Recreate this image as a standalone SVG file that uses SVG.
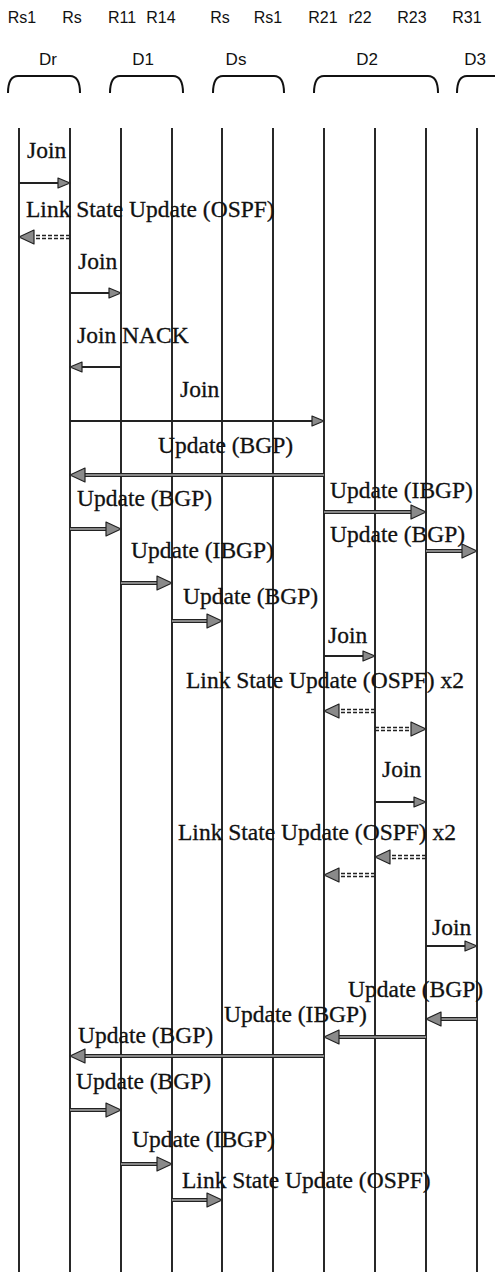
<svg xmlns="http://www.w3.org/2000/svg" width="495" height="1272" viewBox="0 0 495 1272">
<style>
.hdr{font-family:"Liberation Sans",Arial,sans-serif;font-size:16px;fill:#111;text-anchor:middle}
.dom{font-family:"Liberation Sans",Arial,sans-serif;font-size:17px;fill:#111;text-anchor:middle}
.br{fill:none;stroke:#111;stroke-width:2}
.life{stroke:#111;stroke-width:1.8}
.lbl{font-family:"Liberation Serif","Times New Roman",serif;font-size:23.5px;fill:#111;stroke:#111;stroke-width:0.3}
.sol{stroke:#222;stroke-width:2.2;fill:none}
.dbl{stroke:#222;stroke-width:4;fill:none}
.dbi{stroke:#aaa;stroke-width:1.3;fill:none}
.dsh{stroke:#222;stroke-width:1.6;stroke-dasharray:4 2;fill:none}
.hd{fill:#8a8a8a;stroke:#222;stroke-width:1.2;stroke-linejoin:round}
</style>
<rect width="495" height="1272" fill="#fff"/>
<g id="domains">
<g id="dom-Dr"><text class="dom" x="48" y="65">Dr</text><path class="br" d="M8 93C8 84 10 76 18 76H70C78 76 80 84 80 93"/></g>
<g id="dom-D1"><text class="dom" x="143" y="65">D1</text><path class="br" d="M110 93C110 84 112 76 120 76H173C181 76 183 84 183 93"/></g>
<g id="dom-Ds"><text class="dom" x="236" y="65">Ds</text><path class="br" d="M213 93C213 84 215 76 223 76H274C282 76 284 84 284 93"/></g>
<g id="dom-D2"><text class="dom" x="367" y="65">D2</text><path class="br" d="M314 93C314 84 316 76 324 76H428C436 76 438 84 438 93"/></g>
<g id="dom-D3"><text class="dom" x="475" y="65">D3</text><path class="br" d="M457 93C457 84 459 76 467 76H510"/></g>
</g>
<g id="n-Rs1-r"><text class="hdr" x="22" y="23">Rs1</text><line class="life" x1="19" y1="128" x2="19" y2="1272"/></g>
<g id="n-Rs-r"><text class="hdr" x="72" y="23">Rs</text><line class="life" x1="70" y1="128" x2="70" y2="1272"/></g>
<g id="n-R11"><text class="hdr" x="122" y="23">R11</text><line class="life" x1="121" y1="128" x2="121" y2="1272"/></g>
<g id="n-R14"><text class="hdr" x="161" y="23">R14</text><line class="life" x1="172" y1="128" x2="172" y2="1272"/></g>
<g id="n-Rs-s"><text class="hdr" x="220" y="23">Rs</text><line class="life" x1="222" y1="128" x2="222" y2="1272"/></g>
<g id="n-Rs1-s"><text class="hdr" x="268" y="23">Rs1</text><line class="life" x1="273" y1="128" x2="273" y2="1272"/></g>
<g id="n-R21"><text class="hdr" x="323" y="23">R21</text><line class="life" x1="324" y1="128" x2="324" y2="1272"/></g>
<g id="n-r22"><text class="hdr" x="360" y="23">r22</text><line class="life" x1="375" y1="128" x2="375" y2="1272"/></g>
<g id="n-R23"><text class="hdr" x="412" y="23">R23</text><line class="life" x1="426" y1="128" x2="426" y2="1272"/></g>
<g id="n-R31"><text class="hdr" x="467" y="23">R31</text><line class="life" x1="477" y1="128" x2="477" y2="1272"/></g>
<g id="connectors">
<g><text class="lbl" x="27" y="158">Join</text><path class="sol" d="M19 183H58"/><polygon class="hd" points="70,183 58,178 58,188"/></g>
<g><text class="lbl" x="26" y="217">Link State Update (OSPF)</text><path class="dsh" d="M70 235.5H34M70 238.5H34"/><polygon class="hd" points="19,237 34,230 34,244"/></g>
<g><text class="lbl" x="78" y="269">Join</text><path class="sol" d="M70 293H109"/><polygon class="hd" points="121,293 109,288 109,298"/></g>
<g><text class="lbl" x="77" y="343">Join NACK</text><path class="sol" d="M121 367H82"/><polygon class="hd" points="70,367 82,362 82,372"/></g>
<g><text class="lbl" x="180" y="397">Join</text><path class="sol" d="M70 421H312"/><polygon class="hd" points="324,421 312,416 312,426"/></g>
<g><text class="lbl" x="158" y="453">Update (BGP)</text><path class="dbl" d="M324 475H85"/><path class="dbi" d="M324 475H85"/><polygon class="hd" points="70,475 85,468 85,482"/></g>
<g><text class="lbl" x="330" y="498">Update (IBGP)</text><path class="dbl" d="M324 512H411"/><path class="dbi" d="M324 512H411"/><polygon class="hd" points="426,512 411,505 411,519"/></g>
<g><text class="lbl" x="77" y="506">Update (BGP)</text><path class="dbl" d="M70 529H106"/><path class="dbi" d="M70 529H106"/><polygon class="hd" points="121,529 106,522 106,536"/></g>
<g><text class="lbl" x="330" y="542">Update (BGP)</text><path class="dbl" d="M426 551H462"/><path class="dbi" d="M426 551H462"/><polygon class="hd" points="477,551 462,544 462,558"/></g>
<g><text class="lbl" x="131" y="558">Update (IBGP)</text><path class="dbl" d="M121 583H157"/><path class="dbi" d="M121 583H157"/><polygon class="hd" points="172,583 157,576 157,590"/></g>
<g><text class="lbl" x="183" y="604">Update (BGP)</text><path class="dbl" d="M172 621H207"/><path class="dbi" d="M172 621H207"/><polygon class="hd" points="222,621 207,614 207,628"/></g>
<g><text class="lbl" x="328" y="643">Join</text><path class="sol" d="M324 656H363"/><polygon class="hd" points="375,656 363,651 363,661"/></g>
<g><text class="lbl" x="186" y="688">Link State Update (OSPF) x2</text><path class="dsh" d="M375 709.5H339M375 712.5H339"/><polygon class="hd" points="324,711 339,704 339,718"/><path class="dsh" d="M375 727.5H411M375 730.5H411"/><polygon class="hd" points="426,729 411,722 411,736"/></g>
<g><text class="lbl" x="382" y="777">Join</text><path class="sol" d="M375 802H414"/><polygon class="hd" points="426,802 414,797 414,807"/></g>
<g><text class="lbl" x="178" y="840">Link State Update (OSPF) x2</text><path class="dsh" d="M426 855.5H390M426 858.5H390"/><polygon class="hd" points="375,857 390,850 390,864"/><path class="dsh" d="M375 873.5H339M375 876.5H339"/><polygon class="hd" points="324,875 339,868 339,882"/></g>
<g><text class="lbl" x="432" y="935">Join</text><path class="sol" d="M426 946H465"/><polygon class="hd" points="477,946 465,941 465,951"/></g>
<g><text class="lbl" x="348" y="997">Update (BGP)</text><path class="dbl" d="M477 1019H441"/><path class="dbi" d="M477 1019H441"/><polygon class="hd" points="426,1019 441,1012 441,1026"/></g>
<g><text class="lbl" x="224" y="1022">Update (IBGP)</text><path class="dbl" d="M426 1037H339"/><path class="dbi" d="M426 1037H339"/><polygon class="hd" points="324,1037 339,1030 339,1044"/></g>
<g><text class="lbl" x="78" y="1043">Update (BGP)</text><path class="dbl" d="M324 1056H85"/><path class="dbi" d="M324 1056H85"/><polygon class="hd" points="70,1056 85,1049 85,1063"/></g>
<g><text class="lbl" x="76" y="1089">Update (BGP)</text><path class="dbl" d="M70 1110H106"/><path class="dbi" d="M70 1110H106"/><polygon class="hd" points="121,1110 106,1103 106,1117"/></g>
<g><text class="lbl" x="132" y="1147">Update (IBGP)</text><path class="dbl" d="M121 1164H157"/><path class="dbi" d="M121 1164H157"/><polygon class="hd" points="172,1164 157,1157 157,1171"/></g>
<g><text class="lbl" x="182" y="1188">Link State Update (OSPF)</text><path class="dbl" d="M172 1200H207"/><path class="dbi" d="M172 1200H207"/><polygon class="hd" points="222,1200 207,1193 207,1207"/></g>
</g>
</svg>
